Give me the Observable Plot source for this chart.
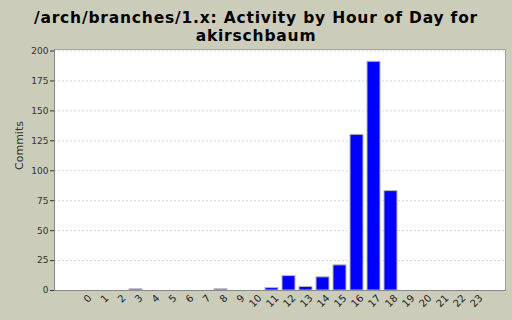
<!DOCTYPE html>
<html><head><meta charset="utf-8">
<script src="https://cdn.jsdelivr.net/npm/d3@7"></script>
<script src="https://cdn.jsdelivr.net/npm/@observablehq/plot@0.6"></script>
<style>
html,body{margin:0;padding:0;background:#ccccbb;width:512px;height:320px;overflow:hidden}
#title{height:46px;box-sizing:border-box;padding-top:9px}
#title div{height:18px;font:bold 15.5px "DejaVu Sans",sans-serif;text-align:center;line-height:18px;color:#000;letter-spacing:0.8px;white-space:nowrap}
svg{display:block}
</style></head><body>
<div id="title"><div>/arch/branches/1.x: Activity by Hour of Day for</div><div>akirschbaum</div></div>
<div id="chart"></div>
<script>
const hours = ["0","1","2","3","4","5","6","7","8","9","10","11","12","13","14","15","16","17","18","19","20","21","22","23"];
const commits = [0,0,0,1,0,0,0,0,1,0,0,2,12,3,11,21,130,191,83,0,0,0,0,0];
const yTicks = [0,25,50,75,100,125,150,175,200];
const data = hours.map((h,i)=>({hour:h, commits:commits[i]}));

const chart = Plot.plot({
  width: 512,
  height: 274,
  marginTop: 3,
  marginBottom: 30,
  marginLeft: 54,
  marginRight: 7,
  style: {background: "transparent", fontFamily: "DejaVu Sans, sans-serif"},
  x: {domain: hours, paddingInner: 0.24, paddingOuter: 0.12, insetLeft: 21, insetRight: 20},
  y: {domain: [0,200], insetTop: 1.5},
  marks: [
    Plot.frame({fill: "white", stroke: "#a0a0a0"}),
    Plot.gridY(yTicks.slice(1), {stroke: "#d6d6d6", strokeOpacity: 1, strokeDasharray: "2,2"}),
    Plot.barY(data, {x: "hour", y: "commits", fill: "#0000ff", stroke: "#b8b8b8", strokeWidth: 1}),
    Plot.frame({anchor: "left", stroke: "#888"}),
    Plot.frame({anchor: "bottom", stroke: "#888"}),
    Plot.axisY({ticks: yTicks, tickSize: 4, tickPadding: 2, fontSize: 9, color: "#333",
      label: null}),
    Plot.text(["Commits"], {frameAnchor: "left", dx: -35, rotate: -90, fontSize: 11, fill: "#333"}),
    Plot.axisX({tickRotate: -45, tickSize: 0, tickPadding: 6, fontSize: 10, color: "#222", label: null, dx: 5})
  ]
});
document.getElementById("chart").appendChild(chart);
</script>
</body></html>
